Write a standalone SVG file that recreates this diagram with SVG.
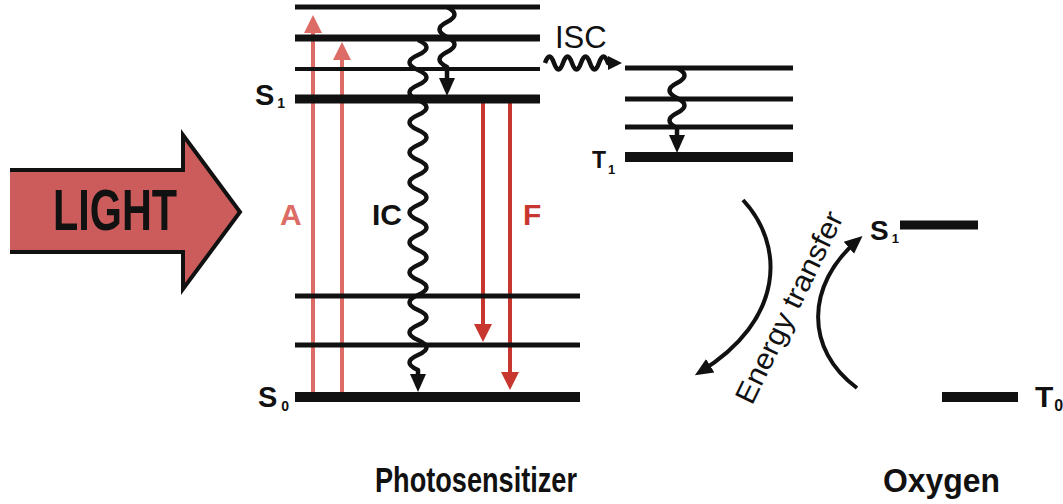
<svg xmlns="http://www.w3.org/2000/svg" width="1063" height="504" viewBox="0 0 1063 504">
<style>
.lvl{stroke:#111;fill:none}
.wave{stroke:#111;stroke-width:4.5;fill:none;stroke-linejoin:round}
.arc{stroke:#111;stroke-width:4;fill:none}
.ra{stroke:#dd6b66;stroke-width:4}
.rf{stroke:#c8372f;stroke-width:4}
.t{font-family:"Liberation Sans",Arial,sans-serif;fill:#111}
.b{font-weight:bold}
</style>
<defs>
<marker id="mA" markerUnits="userSpaceOnUse" markerWidth="18" markerHeight="18" refX="12" refY="9" orient="auto"><path d="M0,0 L18,9 L0,18 z" fill="#dd6b66"/></marker>
<marker id="mF" markerUnits="userSpaceOnUse" markerWidth="18" markerHeight="18" refX="12" refY="9" orient="auto"><path d="M0,0 L18,9 L0,18 z" fill="#c8372f"/></marker>
<marker id="mK" markerUnits="userSpaceOnUse" markerWidth="18" markerHeight="18" refX="12" refY="9" orient="auto"><path d="M0,1 L18,9 L0,17 z" fill="#111"/></marker>
<marker id="mS" markerUnits="userSpaceOnUse" markerWidth="14" markerHeight="14" refX="9" refY="7" orient="auto"><path d="M0,0 L14,7 L0,14 z" fill="#111"/></marker>
</defs>
<rect width="1063" height="504" fill="#fff"/>

<g id="light">
<path d="M10,170 L183,170 L183,135 L240,212 L183,289 L183,252 L10,252 z" fill="#cc5c5c"/>
<path d="M10,170 L183,170 L183,135 L240,212 L183,289 L183,252 L10,252" fill="none" stroke="#111" stroke-width="4" stroke-linejoin="miter"/>
<text class="t b" x="53" y="230" font-size="58" textLength="124" lengthAdjust="spacingAndGlyphs">LIGHT</text>
</g>

<g id="connectors">
<line class="ra" x1="313" y1="397" x2="313" y2="21" marker-end="url(#mA)"/>
<line class="ra" x1="342" y1="397" x2="342" y2="48" marker-end="url(#mA)"/>
<line class="rf" x1="483" y1="99" x2="483" y2="336" marker-end="url(#mF)"/>
<line class="rf" x1="510" y1="99" x2="510" y2="384" marker-end="url(#mF)"/>
</g>

<g id="ps-singlet">
<line class="lvl" x1="295" y1="7" x2="540" y2="7" stroke-width="5"/>
<line class="lvl" x1="295" y1="38" x2="540" y2="38" stroke-width="7"/>
<line class="lvl" x1="295" y1="69" x2="540" y2="69" stroke-width="4"/>
<line class="lvl" x1="295" y1="99" x2="540" y2="99" stroke-width="9"/>
<text class="t b" x="255" y="105" font-size="29">S<tspan font-size="14" dx="3" dy="3">1</tspan></text>
</g>

<g id="ps-ground">
<line class="lvl" x1="295" y1="296" x2="580" y2="296" stroke-width="5"/>
<line class="lvl" x1="295" y1="345" x2="580" y2="345" stroke-width="5"/>
<line class="lvl" x1="295" y1="397" x2="580" y2="397" stroke-width="10"/>
<text class="t b" x="258" y="407" font-size="29">S<tspan font-size="14" dx="4" dy="4">0</tspan></text>
</g>

<g id="ps-triplet">
<line class="lvl" x1="625" y1="68" x2="793" y2="68" stroke-width="5"/>
<line class="lvl" x1="625" y1="99" x2="793" y2="99" stroke-width="5"/>
<line class="lvl" x1="625" y1="127" x2="793" y2="127" stroke-width="5"/>
<line class="lvl" x1="625" y1="157" x2="793" y2="157" stroke-width="10"/>
<text class="t b" x="592" y="168" font-size="23">T<tspan font-size="13" dx="2" dy="6">1</tspan></text>
</g>

<g id="o2-singlet">
<line class="lvl" x1="900" y1="225" x2="978" y2="225" stroke-width="9"/>
<text class="t b" x="870" y="240" font-size="28">S<tspan font-size="13" dx="3" dy="3">1</tspan></text>
</g>

<g id="o2-triplet">
<line class="lvl" x1="942" y1="397" x2="1018" y2="397" stroke-width="10"/>
<text class="t b" x="1035" y="407" font-size="30">T<tspan font-size="16" dx="1" dy="4">0</tspan></text>
</g>

<g id="waves">
<path class="wave" d="M447,7 q15,7.5 0,15 t0,15 t0,15 t0,15 V90" marker-end="url(#mK)"/>
<path class="wave" d="M418,40 q17,7.5 0,15 t0,15 t0,15 t0,15 t0,15 t0,15 t0,15 t0,15 t0,15 t0,15 t0,15 t0,15 t0,15 t0,15 t0,15 t0,15 t0,15 t0,15 t0,15 t0,15 t0,15 t0,15 V386" marker-end="url(#mK)"/>
<path class="wave" d="M677,68 q15,7.5 0,15 t0,15 t0,15 t0,15 V147" marker-end="url(#mK)"/>
<path class="wave" d="M545,63 q4.5,-13 9,0 t9,0 t9,0 t9,0 t9,0 t9,0 t9,0 H617" stroke-width="4" marker-end="url(#mS)"/>
<path class="arc" d="M743,200 C785,245 785,320 700,372" marker-end="url(#mK)"/>
<path class="arc" d="M857,388 C805,350 805,285 858,240" marker-end="url(#mK)"/>
</g>

<g id="labels">
<text class="t b" x="280" y="225" font-size="30" style="fill:#dd6b66">A</text>
<text class="t b" x="523" y="225" font-size="30" style="fill:#c8372f">F</text>
<text class="t b" x="372" y="225" font-size="30">IC</text>
<text class="t" x="555" y="48" font-size="31">ISC</text>
<text class="t" transform="translate(752,406) rotate(-64)" x="0" y="0" font-size="29" textLength="210" lengthAdjust="spacingAndGlyphs">Energy transfer</text>
<text class="t b" x="375" y="492" font-size="35" textLength="202" lengthAdjust="spacingAndGlyphs">Photosensitizer</text>
<text class="t b" x="883" y="492" font-size="33" textLength="117" lengthAdjust="spacingAndGlyphs">Oxygen</text>
</g>
</svg>
